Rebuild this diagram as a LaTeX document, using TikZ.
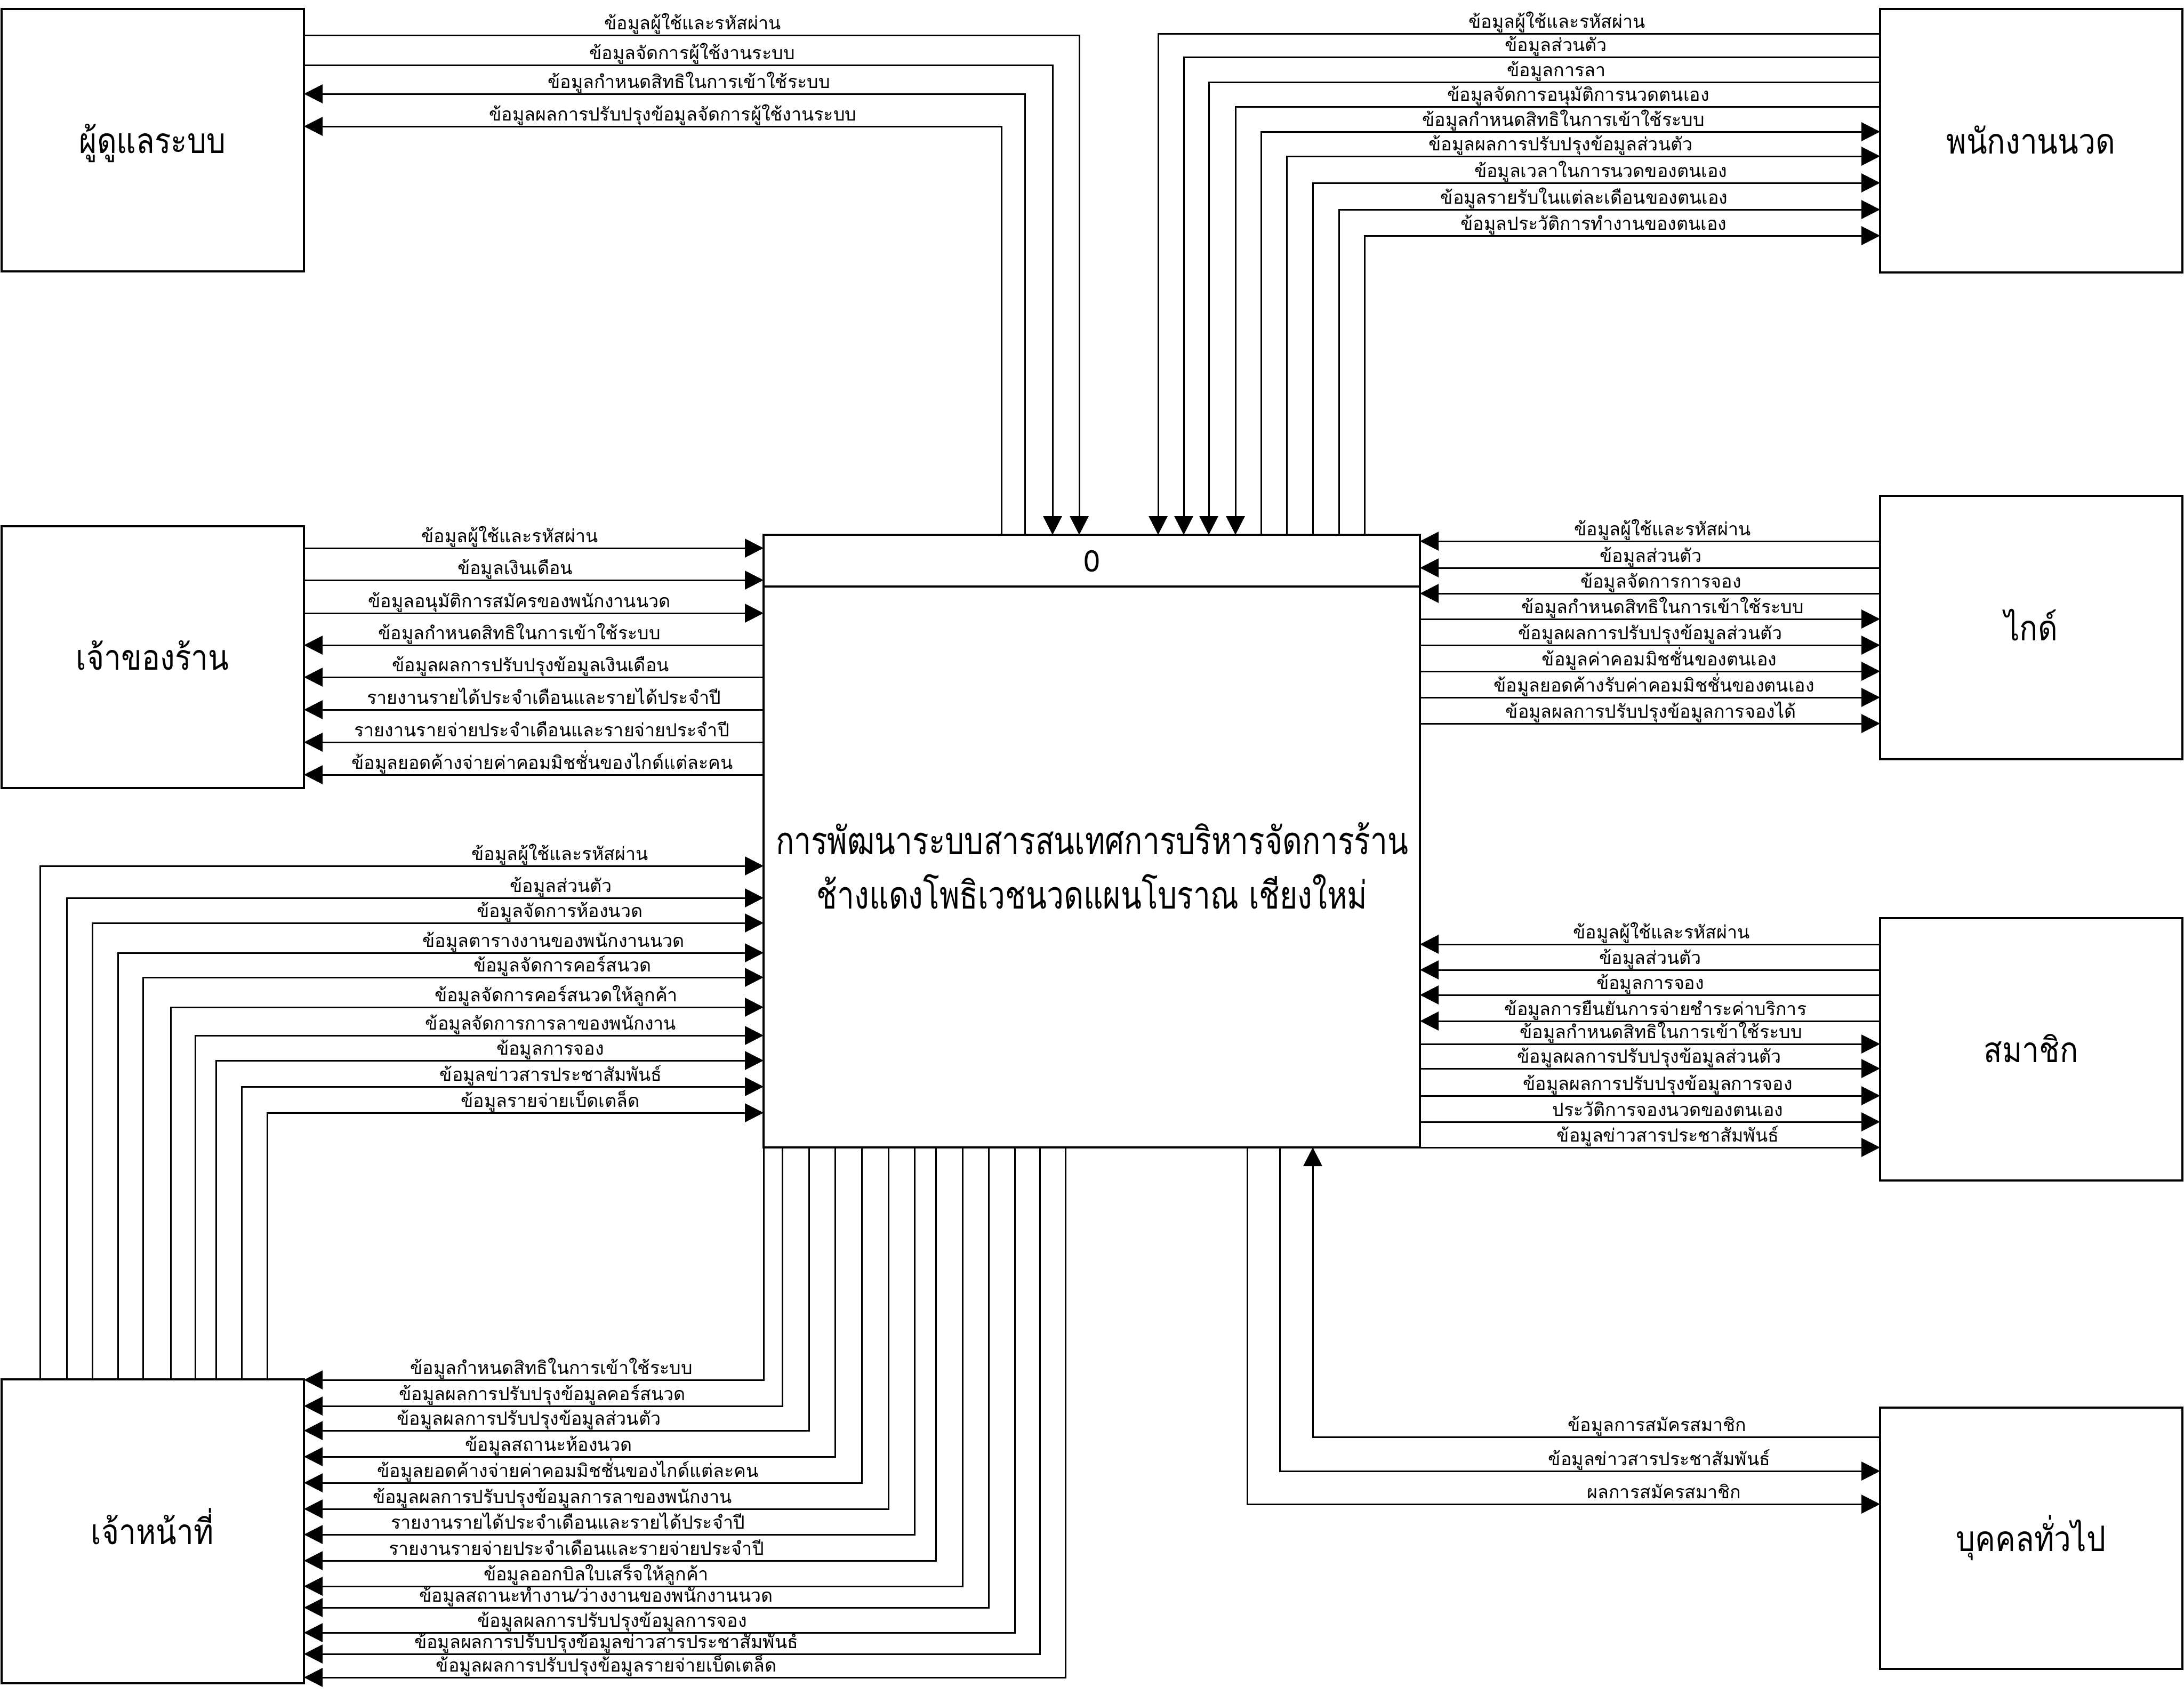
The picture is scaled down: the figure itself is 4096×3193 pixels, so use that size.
\documentclass[tikz,border=0pt]{standalone}
\usepackage{fontspec}
\newfontfamily\thai[Script=Thai]{Loma}
\newfontfamily\thaient[Script=Thai,FakeStretch=0.86]{Loma}
\newfontfamily\thaitit[Script=Thai,FakeStretch=0.79]{Loma}
\usetikzlibrary{arrows.meta}
\newcommand\labf{\thai\fontsize{8.5}{10}\selectfont}
\newcommand\entf{\thaient\fontsize{16.5}{20}\selectfont}
\newcommand\titf{\thaitit\fontsize{18}{22}\selectfont}
\newcommand\numf{\thai\fontsize{14}{16}\selectfont}
\begin{document}
\begin{tikzpicture}[x=0.25pt,y=-0.25pt,
  box/.style={draw, line width=0.85pt, inner sep=0pt, outer sep=0pt},
  flow/.style={line width=0.75pt},
  tip/.style={-{Triangle[length=8.75pt,width=8.75pt]}},
  lab/.style={font=\labf, anchor=base, inner sep=0pt},
  ent/.style={font=\entf, anchor=base, inner sep=0pt},
  tit/.style={font=\titf, anchor=base, inner sep=0pt}]
\fill[white] (0,0) rectangle (4096,3193);
\useasboundingbox (0,0) rectangle (4096,3193);

% ---------- boxes ----------
\node[box, minimum width=141.75pt, minimum height=123pt]    (admin)  at (286.5,263) {};
\node[box, minimum width=141.75pt, minimum height=122.75pt] (owner)  at (286.5,1232.5) {};
\node[box, minimum width=141.75pt, minimum height=142.5pt]  (staff)  at (286.5,2872) {};
\node[box, minimum width=141.75pt, minimum height=123.5pt]  (emp)    at (3809.5,264) {};
\node[box, minimum width=141.75pt, minimum height=123.5pt]  (guide)  at (3809.5,1177) {};
\node[box, minimum width=141.75pt, minimum height=123pt]    (member) at (3809.5,1968) {};
\node[box, minimum width=141.75pt, minimum height=122.5pt]  (person) at (3809.5,2885) {};
\node[box, minimum width=307.75pt, minimum height=287.25pt] (proc)   at (2047.5,1577.5) {};
\draw[line width=0.85pt] (proc.west |- 0,1100) -- (proc.east |- 0,1100);

\node[ent] (tadmin)  at (286,287)   {ผู้ดูแลระบบ};
\node[ent] (towner)  at (286,1256)  {เจ้าของร้าน};
\node[ent] (tstaff)  at (286,2896)  {เจ้าหน้าที่};
\node[ent] (temp)    at (3809,288)  {พนักงานนวด};
\node[ent] (tguide)  at (3809,1201) {ไกด์};
\node[ent] (tmember) at (3809,1992) {สมาชิก};
\node[ent] (tperson) at (3809,2909) {บุคคลทั่วไป};
\node[font=\numf, anchor=base, inner sep=0pt] (pnum) at (2048,1072) {0};
\node[tit] (ptit1)   at (2048,1602) {การพัฒนาระบบสารสนเทศการบริหารจัดการร้าน};
\node[tit] (ptit2)   at (2048,1704) {ช้างแดงโพธิเวชนวดแผนโบราณ เชียงใหม่};

% ---------- admin ----------
\draw[flow,tip] (admin.east |- 0,66)  -| (proc.north -| 2024,0);
\draw[flow,tip] (admin.east |- 0,122) -| (proc.north -| 1974,0);
\draw[flow,tip] (proc.north -| 1922,0) |- (admin.east |- 0,176);
\draw[flow,tip] (proc.north -| 1878,0) |- (admin.east |- 0,237);
\node[lab] (la1) at (1299,55)  {ข้อมูลผู้ใช้และรหัสผ่าน};
\node[lab] (la2) at (1298,111) {ข้อมูลจัดการผู้ใช้งานระบบ};
\node[lab] (la3) at (1292,165) {ข้อมูลกำหนดสิทธิในการเข้าใช้ระบบ};
\node[lab] (la4) at (1262,226) {ข้อมูลผลการปรับปรุงข้อมูลจัดการผู้ใช้งานระบบ};

% ---------- employee ----------
\draw[flow,tip] (emp.west |- 0,63)  -| (proc.north -| 2172,0);
\draw[flow,tip] (emp.west |- 0,107) -| (proc.north -| 2220,0);
\draw[flow,tip] (emp.west |- 0,154) -| (proc.north -| 2267,0);
\draw[flow,tip] (emp.west |- 0,200) -| (proc.north -| 2317,0);
\draw[flow,tip] (proc.north -| 2365,0) |- (emp.west |- 0,247);
\draw[flow,tip] (proc.north -| 2413,0) |- (emp.west |- 0,293);
\draw[flow,tip] (proc.north -| 2462,0) |- (emp.west |- 0,343);
\draw[flow,tip] (proc.north -| 2511,0) |- (emp.west |- 0,393);
\draw[flow,tip] (proc.north -| 2559,0) |- (emp.west |- 0,442);
\node[lab] (le1) at (2920,52)  {ข้อมูลผู้ใช้และรหัสผ่าน};
\node[lab] (le2) at (2918,96)  {ข้อมูลส่วนตัว};
\node[lab] (le3) at (2919,143) {ข้อมูลการลา};
\node[lab] (le4) at (2960,189) {ข้อมูลจัดการอนุมัติการนวดตนเอง};
\node[lab] (le5) at (2932,236) {ข้อมูลกำหนดสิทธิในการเข้าใช้ระบบ};
\node[lab] (le6) at (2927,282) {ข้อมูลผลการปรับปรุงข้อมูลส่วนตัว};
\node[lab] (le7) at (3002,332) {ข้อมูลเวลาในการนวดของตนเอง};
\node[lab] (le8) at (2971,382) {ข้อมูลรายรับในแต่ละเดือนของตนเอง};
\node[lab] (le9) at (2989,431) {ข้อมูลประวัติการทำงานของตนเอง};

% ---------- owner ----------
\draw[flow,tip] (owner.east |- 0,1028) -- (proc.west |- 0,1028);
\draw[flow,tip] (owner.east |- 0,1088) -- (proc.west |- 0,1088);
\draw[flow,tip] (owner.east |- 0,1150) -- (proc.west |- 0,1150);
\draw[flow,tip] (proc.west |- 0,1210) -- (owner.east |- 0,1210);
\draw[flow,tip] (proc.west |- 0,1270) -- (owner.east |- 0,1270);
\draw[flow,tip] (proc.west |- 0,1331) -- (owner.east |- 0,1331);
\draw[flow,tip] (proc.west |- 0,1392) -- (owner.east |- 0,1392);
\draw[flow,tip] (proc.west |- 0,1453) -- (owner.east |- 0,1453);
\node[lab] (lo1) at (956,1017)  {ข้อมูลผู้ใช้และรหัสผ่าน};
\node[lab] (lo2) at (966,1077)  {ข้อมูลเงินเดือน};
\node[lab] (lo3) at (974,1139)  {ข้อมูลอนุมัติการสมัครของพนักงานนวด};
\node[lab] (lo4) at (974,1199)  {ข้อมูลกำหนดสิทธิในการเข้าใช้ระบบ};
\node[lab] (lo5) at (995,1259)  {ข้อมูลผลการปรับปรุงข้อมูลเงินเดือน};
\node[lab] (lo6) at (1020,1320) {รายงานรายได้ประจำเดือนและรายได้ประจำปี};
\node[lab] (lo7) at (1016,1381) {รายงานรายจ่ายประจำเดือนและรายจ่ายประจำปี};
\node[lab] (lo8) at (1017,1442) {ข้อมูลยอดค้างจ่ายค่าคอมมิชชั่นของไกด์แต่ละคน};

% ---------- guide ----------
\draw[flow,tip] (guide.west |- 0,1015) -- (proc.east |- 0,1015);
\draw[flow,tip] (guide.west |- 0,1065) -- (proc.east |- 0,1065);
\draw[flow,tip] (guide.west |- 0,1113) -- (proc.east |- 0,1113);
\draw[flow,tip] (proc.east |- 0,1161) -- (guide.west |- 0,1161);
\draw[flow,tip] (proc.east |- 0,1210) -- (guide.west |- 0,1210);
\draw[flow,tip] (proc.east |- 0,1259) -- (guide.west |- 0,1259);
\draw[flow,tip] (proc.east |- 0,1308) -- (guide.west |- 0,1308);
\draw[flow,tip] (proc.east |- 0,1357) -- (guide.west |- 0,1357);
\node[lab] (lg1) at (3118,1004) {ข้อมูลผู้ใช้และรหัสผ่าน};
\node[lab] (lg2) at (3096,1054) {ข้อมูลส่วนตัว};
\node[lab] (lg3) at (3115,1102) {ข้อมูลจัดการการจอง};
\node[lab] (lg4) at (3118,1150) {ข้อมูลกำหนดสิทธิในการเข้าใช้ระบบ};
\node[lab] (lg5) at (3095,1199) {ข้อมูลผลการปรับปรุงข้อมูลส่วนตัว};
\node[lab] (lg6) at (3112,1248) {ข้อมูลค่าคอมมิชชั่นของตนเอง};
\node[lab] (lg7) at (3102,1297) {ข้อมูลยอดค้างรับค่าคอมมิชชั่นของตนเอง};
\node[lab] (lg8) at (3096,1346) {ข้อมูลผลการปรับปรุงข้อมูลการจองได้};

% ---------- member ----------
\draw[flow,tip] (member.west |- 0,1771) -- (proc.east |- 0,1771);
\draw[flow,tip] (member.west |- 0,1819) -- (proc.east |- 0,1819);
\draw[flow,tip] (member.west |- 0,1866) -- (proc.east |- 0,1866);
\draw[flow,tip] (member.west |- 0,1915) -- (proc.east |- 0,1915);
\draw[flow,tip] (proc.east |- 0,1958) -- (member.west |- 0,1958);
\draw[flow,tip] (proc.east |- 0,2004) -- (member.west |- 0,2004);
\draw[flow,tip] (proc.east |- 0,2055) -- (member.west |- 0,2055);
\draw[flow,tip] (proc.east |- 0,2104) -- (member.west |- 0,2104);
\draw[flow,tip] (proc.south east) -- (member.west |- proc.south east);
\node[lab] (lm1) at (3116,1760) {ข้อมูลผู้ใช้และรหัสผ่าน};
\node[lab] (lm2) at (3095,1808) {ข้อมูลส่วนตัว};
\node[lab] (lm3) at (3095,1855) {ข้อมูลการจอง};
\node[lab] (lm4) at (3105,1904) {ข้อมูลการยืนยันการจ่ายชำระค่าบริการ};
\node[lab] (lm5) at (3115,1947) {ข้อมูลกำหนดสิทธิในการเข้าใช้ระบบ};
\node[lab] (lm6) at (3093,1993) {ข้อมูลผลการปรับปรุงข้อมูลส่วนตัว};
\node[lab] (lm7) at (3109,2044) {ข้อมูลผลการปรับปรุงข้อมูลการจอง};
\node[lab] (lm8) at (3128,2093) {ประวัติการจองนวดของตนเอง};
\node[lab] (lm9) at (3128,2141) {ข้อมูลข่าวสารประชาสัมพันธ์};

% ---------- person ----------
\draw[flow,tip] (person.west |- 0,2695) -| (proc.south -| 2462,0);
\draw[flow,tip] (proc.south -| 2400,0) |- (person.west |- 0,2759);
\draw[flow,tip] (proc.south -| 2339,0) |- (person.west |- 0,2821);
\node[lab] (lp1) at (3108,2684) {ข้อมูลการสมัครสมาชิก};
\node[lab] (lp2) at (3112,2748) {ข้อมูลข่าวสารประชาสัมพันธ์};
\node[lab] (lp3) at (3121,2810) {ผลการสมัครสมาชิก};

% ---------- staff inputs ----------
\draw[flow,tip] (staff.north -| 75,0)  |- (proc.west |- 0,1624);
\draw[flow,tip] (staff.north -| 125,0) |- (proc.west |- 0,1684);
\draw[flow,tip] (staff.north -| 173,0) |- (proc.west |- 0,1731);
\draw[flow,tip] (staff.north -| 221,0) |- (proc.west |- 0,1787);
\draw[flow,tip] (staff.north -| 268,0) |- (proc.west |- 0,1833);
\draw[flow,tip] (staff.north -| 320,0) |- (proc.west |- 0,1889);
\draw[flow,tip] (staff.north -| 366,0) |- (proc.west |- 0,1942);
\draw[flow,tip] (staff.north -| 405,0) |- (proc.west |- 0,1989);
\draw[flow,tip] (staff.north -| 453,0) |- (proc.west |- 0,2038);
\draw[flow,tip] (staff.north -| 501,0) |- (proc.west |- 0,2087);
\node[lab] (ls1)  at (1050,1613) {ข้อมูลผู้ใช้และรหัสผ่าน};
\node[lab] (ls2)  at (1052,1673) {ข้อมูลส่วนตัว};
\node[lab] (ls3)  at (1050,1720) {ข้อมูลจัดการห้องนวด};
\node[lab] (ls4)  at (1038,1776) {ข้อมูลตารางงานของพนักงานนวด};
\node[lab] (ls5)  at (1055,1822) {ข้อมูลจัดการคอร์สนวด};
\node[lab] (ls6)  at (1043,1878) {ข้อมูลจัดการคอร์สนวดให้ลูกค้า};
\node[lab] (ls7)  at (1033,1931) {ข้อมูลจัดการการลาของพนักงาน};
\node[lab] (ls8)  at (1032,1978) {ข้อมูลการจอง};
\node[lab] (ls9)  at (1033,2027) {ข้อมูลข่าวสารประชาสัมพันธ์};
\node[lab] (ls10) at (1032,2076) {ข้อมูลรายจ่ายเบ็ดเตล็ด};

% ---------- staff outputs ----------
\draw[flow,tip] (proc.south -| 1432,0) |- (staff.east |- 0,2588);
\draw[flow,tip] (proc.south -| 1467,0) |- (staff.east |- 0,2637);
\draw[flow,tip] (proc.south -| 1517,0) |- (staff.east |- 0,2683);
\draw[flow,tip] (proc.south -| 1566,0) |- (staff.east |- 0,2732);
\draw[flow,tip] (proc.south -| 1616,0) |- (staff.east |- 0,2781);
\draw[flow,tip] (proc.south -| 1666,0) |- (staff.east |- 0,2830);
\draw[flow,tip] (proc.south -| 1715,0) |- (staff.east |- 0,2878);
\draw[flow,tip] (proc.south -| 1755,0) |- (staff.east |- 0,2927);
\draw[flow,tip] (proc.south -| 1805,0) |- (staff.east |- 0,2975);
\draw[flow,tip] (proc.south -| 1854,0) |- (staff.east |- 0,3015);
\draw[flow,tip] (proc.south -| 1903,0) |- (staff.east |- 0,3062);
\draw[flow,tip] (proc.south -| 1950,0) |- (staff.east |- 0,3102);
\draw[flow,tip] (proc.south -| 1998,0) |- (staff.east |- 0,3146);
\node[lab] (lt1)  at (1034,2577) {ข้อมูลกำหนดสิทธิในการเข้าใช้ระบบ};
\node[lab] (lt2)  at (1017,2626) {ข้อมูลผลการปรับปรุงข้อมูลคอร์สนวด};
\node[lab] (lt3)  at (992,2672)  {ข้อมูลผลการปรับปรุงข้อมูลส่วนตัว};
\node[lab] (lt4)  at (1029,2721) {ข้อมูลสถานะห้องนวด};
\node[lab] (lt5)  at (1065,2770) {ข้อมูลยอดค้างจ่ายค่าคอมมิชชั่นของไกด์แต่ละคน};
\node[lab] (lt6)  at (1036,2819) {ข้อมูลผลการปรับปรุงข้อมูลการลาของพนักงาน};
\node[lab] (lt7)  at (1065,2867) {รายงานรายได้ประจำเดือนและรายได้ประจำปี};
\node[lab] (lt8)  at (1081,2916) {รายงานรายจ่ายประจำเดือนและรายจ่ายประจำปี};
\node[lab] (lt9)  at (1118,2964) {ข้อมูลออกบิลใบเสร็จให้ลูกค้า};
\node[lab] (lt10) at (1118,3004) {ข้อมูลสถานะทำงาน/ว่างงานของพนักงานนวด};
\node[lab] (lt11) at (1148,3051) {ข้อมูลผลการปรับปรุงข้อมูลการจอง};
\node[lab] (lt12) at (1137,3091) {ข้อมูลผลการปรับปรุงข้อมูลข่าวสารประชาสัมพันธ์};
\node[lab] (lt13) at (1137,3135) {ข้อมูลผลการปรับปรุงข้อมูลรายจ่ายเบ็ดเตล็ด};
\end{tikzpicture}
\end{document}
